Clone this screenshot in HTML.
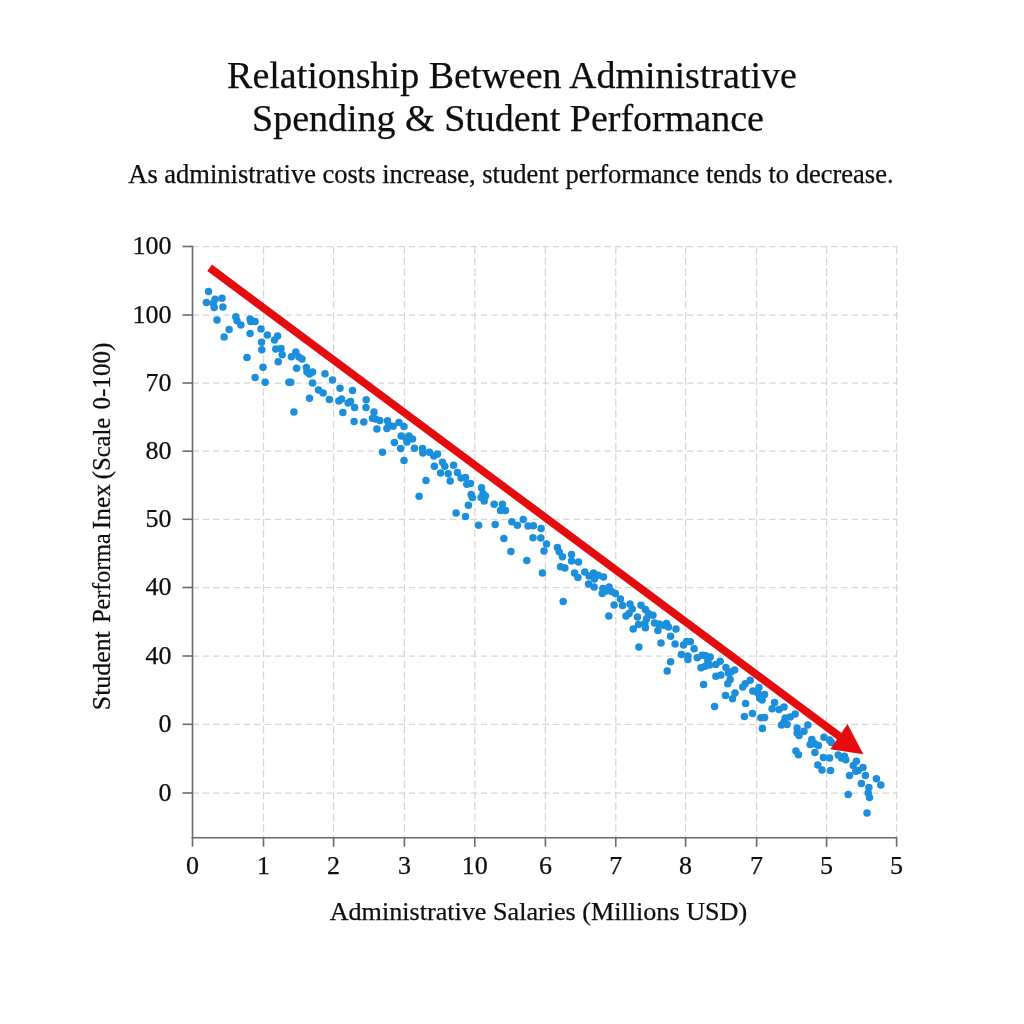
<!DOCTYPE html>
<html lang="en"><head><meta charset="utf-8">
<title>Relationship Between Administrative Spending &amp; Student Performance</title>
<style>
html,body{margin:0;padding:0;background:#fff;}
body{width:1024px;height:1024px;overflow:hidden;position:relative;}
svg{position:absolute;left:0;top:0;display:block;}
text{font-family:'Liberation Serif','DejaVu Serif',serif;fill:#0e0e0e;stroke:#0e0e0e;stroke-width:0.25;}
.g{stroke:#d6d6d6;stroke-width:1.25;fill:none;}
.ax{stroke:#6a6a6a;stroke-width:1.6;fill:none;}
.d{fill:#1b8fdb;}
</style></head><body>
<svg width="1024" height="1024" viewBox="0 0 1024 1024">
<rect width="1024" height="1024" fill="#fff"/>
<g class="g">
<line x1="192.5" y1="246.5" x2="897.5" y2="246.5" stroke-dasharray="6.3 4"/>
<line x1="192.5" y1="315" x2="897.5" y2="315" stroke-dasharray="6.3 4"/>
<line x1="192.5" y1="383" x2="897.5" y2="383" stroke-dasharray="6.3 4"/>
<line x1="192.5" y1="451.2" x2="897.5" y2="451.2" stroke-dasharray="6.3 4"/>
<line x1="192.5" y1="519.3" x2="897.5" y2="519.3" stroke-dasharray="6.3 4"/>
<line x1="192.5" y1="587.5" x2="897.5" y2="587.5" stroke-dasharray="6.3 4"/>
<line x1="192.5" y1="656" x2="897.5" y2="656" stroke-dasharray="6.3 4"/>
<line x1="192.5" y1="724.3" x2="897.5" y2="724.3" stroke-dasharray="6.3 4"/>
<line x1="192.5" y1="793" x2="897.5" y2="793" stroke-dasharray="6.3 4"/>
<line x1="263.5" y1="246.5" x2="263.5" y2="837.7" stroke-dasharray="7.6 3.3"/>
<line x1="333.6" y1="246.5" x2="333.6" y2="837.7" stroke-dasharray="7.6 3.3"/>
<line x1="404.4" y1="246.5" x2="404.4" y2="837.7" stroke-dasharray="7.6 3.3"/>
<line x1="474.8" y1="246.5" x2="474.8" y2="837.7" stroke-dasharray="7.6 3.3"/>
<line x1="545.4" y1="246.5" x2="545.4" y2="837.7" stroke-dasharray="7.6 3.3"/>
<line x1="615.8" y1="246.5" x2="615.8" y2="837.7" stroke-dasharray="7.6 3.3"/>
<line x1="685.6" y1="246.5" x2="685.6" y2="837.7" stroke-dasharray="7.6 3.3"/>
<line x1="756.6" y1="246.5" x2="756.6" y2="837.7" stroke-dasharray="7.6 3.3"/>
<line x1="826.6" y1="246.5" x2="826.6" y2="837.7" stroke-dasharray="7.6 3.3"/>
<line x1="896.6" y1="246.5" x2="896.6" y2="837.7" stroke-dasharray="7.6 3.3"/>
</g>
<g class="ax">
<line x1="192.5" y1="245.7" x2="192.5" y2="838.5"/>
<line x1="191.7" y1="837.7" x2="897.3" y2="837.7"/>
<line x1="182.5" y1="246.5" x2="192.5" y2="246.5"/>
<line x1="182.5" y1="315" x2="192.5" y2="315"/>
<line x1="182.5" y1="383" x2="192.5" y2="383"/>
<line x1="182.5" y1="451.2" x2="192.5" y2="451.2"/>
<line x1="182.5" y1="519.3" x2="192.5" y2="519.3"/>
<line x1="182.5" y1="587.5" x2="192.5" y2="587.5"/>
<line x1="182.5" y1="656" x2="192.5" y2="656"/>
<line x1="182.5" y1="724.3" x2="192.5" y2="724.3"/>
<line x1="182.5" y1="793" x2="192.5" y2="793"/>
<line x1="192.5" y1="837.7" x2="192.5" y2="846.7"/>
<line x1="263.5" y1="837.7" x2="263.5" y2="846.7"/>
<line x1="333.6" y1="837.7" x2="333.6" y2="846.7"/>
<line x1="404.4" y1="837.7" x2="404.4" y2="846.7"/>
<line x1="474.8" y1="837.7" x2="474.8" y2="846.7"/>
<line x1="545.4" y1="837.7" x2="545.4" y2="846.7"/>
<line x1="615.8" y1="837.7" x2="615.8" y2="846.7"/>
<line x1="685.6" y1="837.7" x2="685.6" y2="846.7"/>
<line x1="756.6" y1="837.7" x2="756.6" y2="846.7"/>
<line x1="826.6" y1="837.7" x2="826.6" y2="846.7"/>
<line x1="896.6" y1="837.7" x2="896.6" y2="846.7"/>
</g>
<g class="d">
<circle cx="208.5" cy="291.6" r="3.75"/>
<circle cx="206.4" cy="302.6" r="3.75"/>
<circle cx="215.1" cy="299.2" r="3.75"/>
<circle cx="213.2" cy="303.2" r="3.75"/>
<circle cx="214.2" cy="307.4" r="3.75"/>
<circle cx="222.0" cy="298.2" r="3.75"/>
<circle cx="222.9" cy="307.0" r="3.75"/>
<circle cx="217.0" cy="320.1" r="3.75"/>
<circle cx="235.8" cy="316.8" r="3.75"/>
<circle cx="237.0" cy="320.8" r="3.75"/>
<circle cx="240.8" cy="325.1" r="3.75"/>
<circle cx="229.1" cy="329.5" r="3.75"/>
<circle cx="224.1" cy="337.0" r="3.75"/>
<circle cx="250.1" cy="318.9" r="3.75"/>
<circle cx="250.8" cy="321.4" r="3.75"/>
<circle cx="255.1" cy="321.4" r="3.75"/>
<circle cx="261.0" cy="328.9" r="3.75"/>
<circle cx="250.1" cy="333.5" r="3.75"/>
<circle cx="267.4" cy="334.9" r="3.75"/>
<circle cx="277.6" cy="336.1" r="3.75"/>
<circle cx="274.5" cy="339.9" r="3.75"/>
<circle cx="261.5" cy="342.2" r="3.75"/>
<circle cx="261.8" cy="349.8" r="3.75"/>
<circle cx="275.8" cy="348.9" r="3.75"/>
<circle cx="281.1" cy="348.5" r="3.75"/>
<circle cx="282.2" cy="354.8" r="3.75"/>
<circle cx="247.0" cy="357.6" r="3.75"/>
<circle cx="278.2" cy="361.8" r="3.75"/>
<circle cx="263.0" cy="367.2" r="3.75"/>
<circle cx="295.8" cy="352.0" r="3.75"/>
<circle cx="291.4" cy="356.8" r="3.75"/>
<circle cx="298.9" cy="357.0" r="3.75"/>
<circle cx="302.0" cy="359.1" r="3.75"/>
<circle cx="296.6" cy="368.2" r="3.75"/>
<circle cx="306.4" cy="367.6" r="3.75"/>
<circle cx="307.0" cy="372.0" r="3.75"/>
<circle cx="312.6" cy="372.0" r="3.75"/>
<circle cx="309.5" cy="373.9" r="3.75"/>
<circle cx="255.1" cy="377.6" r="3.75"/>
<circle cx="265.1" cy="382.2" r="3.75"/>
<circle cx="288.9" cy="382.2" r="3.75"/>
<circle cx="290.8" cy="382.2" r="3.75"/>
<circle cx="312.6" cy="383.0" r="3.75"/>
<circle cx="318.5" cy="390.1" r="3.75"/>
<circle cx="309.5" cy="398.2" r="3.75"/>
<circle cx="293.9" cy="411.9" r="3.75"/>
<circle cx="325.0" cy="373.8" r="3.75"/>
<circle cx="332.5" cy="380.0" r="3.75"/>
<circle cx="323.1" cy="392.9" r="3.75"/>
<circle cx="340.0" cy="388.2" r="3.75"/>
<circle cx="352.5" cy="390.6" r="3.75"/>
<circle cx="329.4" cy="399.4" r="3.75"/>
<circle cx="338.8" cy="401.0" r="3.75"/>
<circle cx="341.5" cy="399.1" r="3.75"/>
<circle cx="348.1" cy="402.9" r="3.75"/>
<circle cx="350.6" cy="401.6" r="3.75"/>
<circle cx="354.6" cy="407.6" r="3.75"/>
<circle cx="342.9" cy="412.5" r="3.75"/>
<circle cx="366.2" cy="399.8" r="3.75"/>
<circle cx="366.0" cy="407.6" r="3.75"/>
<circle cx="374.0" cy="411.9" r="3.75"/>
<circle cx="354.1" cy="421.5" r="3.75"/>
<circle cx="363.8" cy="422.0" r="3.75"/>
<circle cx="372.5" cy="418.2" r="3.75"/>
<circle cx="375.6" cy="419.1" r="3.75"/>
<circle cx="379.8" cy="420.6" r="3.75"/>
<circle cx="387.5" cy="420.8" r="3.75"/>
<circle cx="376.9" cy="429.1" r="3.75"/>
<circle cx="386.9" cy="428.5" r="3.75"/>
<circle cx="388.8" cy="425.0" r="3.75"/>
<circle cx="393.1" cy="426.2" r="3.75"/>
<circle cx="399.0" cy="422.5" r="3.75"/>
<circle cx="404.0" cy="426.6" r="3.75"/>
<circle cx="401.2" cy="436.0" r="3.75"/>
<circle cx="406.2" cy="437.9" r="3.75"/>
<circle cx="409.0" cy="436.0" r="3.75"/>
<circle cx="412.5" cy="439.1" r="3.75"/>
<circle cx="406.9" cy="442.0" r="3.75"/>
<circle cx="394.4" cy="442.5" r="3.75"/>
<circle cx="400.6" cy="448.5" r="3.75"/>
<circle cx="414.4" cy="448.2" r="3.75"/>
<circle cx="382.5" cy="452.2" r="3.75"/>
<circle cx="422.5" cy="448.5" r="3.75"/>
<circle cx="422.8" cy="452.9" r="3.75"/>
<circle cx="429.4" cy="452.2" r="3.75"/>
<circle cx="433.8" cy="456.0" r="3.75"/>
<circle cx="437.5" cy="454.1" r="3.75"/>
<circle cx="404.0" cy="460.6" r="3.75"/>
<circle cx="442.5" cy="462.2" r="3.75"/>
<circle cx="434.4" cy="466.2" r="3.75"/>
<circle cx="419.1" cy="496.2" r="3.75"/>
<circle cx="426.0" cy="480.5" r="3.75"/>
<circle cx="440.6" cy="473.0" r="3.75"/>
<circle cx="448.2" cy="473.8" r="3.75"/>
<circle cx="450.2" cy="481.1" r="3.75"/>
<circle cx="453.6" cy="465.2" r="3.75"/>
<circle cx="457.4" cy="472.4" r="3.75"/>
<circle cx="461.1" cy="478.0" r="3.75"/>
<circle cx="465.5" cy="477.4" r="3.75"/>
<circle cx="466.8" cy="484.2" r="3.75"/>
<circle cx="470.5" cy="483.6" r="3.75"/>
<circle cx="481.5" cy="487.8" r="3.75"/>
<circle cx="471.1" cy="494.5" r="3.75"/>
<circle cx="472.4" cy="497.4" r="3.75"/>
<circle cx="483.0" cy="493.6" r="3.75"/>
<circle cx="485.5" cy="496.1" r="3.75"/>
<circle cx="481.1" cy="497.4" r="3.75"/>
<circle cx="484.2" cy="501.1" r="3.75"/>
<circle cx="468.4" cy="505.2" r="3.75"/>
<circle cx="494.2" cy="504.2" r="3.75"/>
<circle cx="502.4" cy="504.2" r="3.75"/>
<circle cx="500.5" cy="510.5" r="3.75"/>
<circle cx="505.5" cy="510.5" r="3.75"/>
<circle cx="456.1" cy="513.0" r="3.75"/>
<circle cx="465.5" cy="516.5" r="3.75"/>
<circle cx="478.6" cy="525.2" r="3.75"/>
<circle cx="495.2" cy="524.5" r="3.75"/>
<circle cx="511.8" cy="521.8" r="3.75"/>
<circle cx="517.4" cy="525.2" r="3.75"/>
<circle cx="523.2" cy="519.5" r="3.75"/>
<circle cx="528.0" cy="526.1" r="3.75"/>
<circle cx="533.4" cy="525.8" r="3.75"/>
<circle cx="541.1" cy="528.6" r="3.75"/>
<circle cx="503.9" cy="538.4" r="3.75"/>
<circle cx="533.0" cy="537.8" r="3.75"/>
<circle cx="540.8" cy="538.0" r="3.75"/>
<circle cx="546.5" cy="544.0" r="3.75"/>
<circle cx="544.0" cy="551.1" r="3.75"/>
<circle cx="510.9" cy="551.4" r="3.75"/>
<circle cx="526.8" cy="560.5" r="3.75"/>
<circle cx="557.4" cy="547.4" r="3.75"/>
<circle cx="559.2" cy="551.8" r="3.75"/>
<circle cx="562.4" cy="556.8" r="3.75"/>
<circle cx="571.5" cy="554.5" r="3.75"/>
<circle cx="571.6" cy="561.0" r="3.75"/>
<circle cx="560.5" cy="566.8" r="3.75"/>
<circle cx="564.9" cy="568.0" r="3.75"/>
<circle cx="542.4" cy="573.0" r="3.75"/>
<circle cx="574.5" cy="573.0" r="3.75"/>
<circle cx="563.2" cy="601.6" r="3.75"/>
<circle cx="578.5" cy="562.1" r="3.75"/>
<circle cx="577.9" cy="577.5" r="3.75"/>
<circle cx="584.8" cy="572.1" r="3.75"/>
<circle cx="589.1" cy="575.9" r="3.75"/>
<circle cx="593.5" cy="573.0" r="3.75"/>
<circle cx="594.4" cy="579.0" r="3.75"/>
<circle cx="598.2" cy="575.2" r="3.75"/>
<circle cx="603.5" cy="577.1" r="3.75"/>
<circle cx="588.5" cy="584.0" r="3.75"/>
<circle cx="594.1" cy="587.1" r="3.75"/>
<circle cx="602.9" cy="588.4" r="3.75"/>
<circle cx="606.0" cy="590.9" r="3.75"/>
<circle cx="602.2" cy="593.4" r="3.75"/>
<circle cx="609.1" cy="587.1" r="3.75"/>
<circle cx="611.6" cy="591.5" r="3.75"/>
<circle cx="615.4" cy="593.4" r="3.75"/>
<circle cx="620.4" cy="599.0" r="3.75"/>
<circle cx="614.1" cy="604.9" r="3.75"/>
<circle cx="622.5" cy="605.5" r="3.75"/>
<circle cx="630.0" cy="604.0" r="3.75"/>
<circle cx="632.2" cy="609.0" r="3.75"/>
<circle cx="641.0" cy="605.2" r="3.75"/>
<circle cx="645.4" cy="609.6" r="3.75"/>
<circle cx="629.1" cy="613.4" r="3.75"/>
<circle cx="626.0" cy="616.1" r="3.75"/>
<circle cx="608.8" cy="615.9" r="3.75"/>
<circle cx="637.5" cy="617.1" r="3.75"/>
<circle cx="648.5" cy="613.4" r="3.75"/>
<circle cx="652.9" cy="615.2" r="3.75"/>
<circle cx="646.6" cy="618.8" r="3.75"/>
<circle cx="654.5" cy="623.0" r="3.75"/>
<circle cx="638.5" cy="624.6" r="3.75"/>
<circle cx="644.8" cy="623.4" r="3.75"/>
<circle cx="645.4" cy="627.8" r="3.75"/>
<circle cx="633.2" cy="629.0" r="3.75"/>
<circle cx="659.1" cy="624.0" r="3.75"/>
<circle cx="663.5" cy="625.2" r="3.75"/>
<circle cx="666.6" cy="623.4" r="3.75"/>
<circle cx="668.5" cy="627.1" r="3.75"/>
<circle cx="657.9" cy="630.6" r="3.75"/>
<circle cx="676.0" cy="629.0" r="3.75"/>
<circle cx="670.6" cy="636.2" r="3.75"/>
<circle cx="661.0" cy="643.1" r="3.75"/>
<circle cx="675.1" cy="644.0" r="3.75"/>
<circle cx="638.9" cy="646.9" r="3.75"/>
<circle cx="683.5" cy="645.0" r="3.75"/>
<circle cx="686.6" cy="641.5" r="3.75"/>
<circle cx="690.4" cy="641.8" r="3.75"/>
<circle cx="694.1" cy="648.8" r="3.75"/>
<circle cx="681.4" cy="654.6" r="3.75"/>
<circle cx="687.9" cy="655.9" r="3.75"/>
<circle cx="687.9" cy="659.6" r="3.75"/>
<circle cx="697.2" cy="657.8" r="3.75"/>
<circle cx="702.2" cy="655.2" r="3.75"/>
<circle cx="670.6" cy="661.8" r="3.75"/>
<circle cx="667.2" cy="670.9" r="3.75"/>
<circle cx="701.0" cy="667.8" r="3.75"/>
<circle cx="705.2" cy="655.6" r="3.75"/>
<circle cx="710.2" cy="656.9" r="3.75"/>
<circle cx="707.8" cy="660.6" r="3.75"/>
<circle cx="705.2" cy="666.2" r="3.75"/>
<circle cx="709.6" cy="665.0" r="3.75"/>
<circle cx="715.9" cy="664.4" r="3.75"/>
<circle cx="720.2" cy="661.2" r="3.75"/>
<circle cx="725.9" cy="667.5" r="3.75"/>
<circle cx="734.6" cy="670.0" r="3.75"/>
<circle cx="730.9" cy="671.9" r="3.75"/>
<circle cx="728.4" cy="673.1" r="3.75"/>
<circle cx="715.9" cy="676.2" r="3.75"/>
<circle cx="720.9" cy="675.0" r="3.75"/>
<circle cx="730.2" cy="679.4" r="3.75"/>
<circle cx="727.8" cy="683.8" r="3.75"/>
<circle cx="703.6" cy="684.4" r="3.75"/>
<circle cx="750.2" cy="680.2" r="3.75"/>
<circle cx="745.2" cy="683.8" r="3.75"/>
<circle cx="742.8" cy="686.9" r="3.75"/>
<circle cx="759.0" cy="687.5" r="3.75"/>
<circle cx="752.8" cy="691.0" r="3.75"/>
<circle cx="757.8" cy="693.1" r="3.75"/>
<circle cx="764.6" cy="694.4" r="3.75"/>
<circle cx="759.6" cy="698.1" r="3.75"/>
<circle cx="762.1" cy="700.0" r="3.75"/>
<circle cx="735.0" cy="693.1" r="3.75"/>
<circle cx="732.5" cy="698.8" r="3.75"/>
<circle cx="725.5" cy="695.6" r="3.75"/>
<circle cx="745.6" cy="703.4" r="3.75"/>
<circle cx="714.6" cy="706.6" r="3.75"/>
<circle cx="774.6" cy="702.5" r="3.75"/>
<circle cx="772.1" cy="708.8" r="3.75"/>
<circle cx="779.0" cy="709.4" r="3.75"/>
<circle cx="784.0" cy="706.9" r="3.75"/>
<circle cx="752.5" cy="713.4" r="3.75"/>
<circle cx="744.4" cy="716.5" r="3.75"/>
<circle cx="760.9" cy="717.8" r="3.75"/>
<circle cx="764.6" cy="717.5" r="3.75"/>
<circle cx="795.2" cy="714.0" r="3.75"/>
<circle cx="790.2" cy="716.9" r="3.75"/>
<circle cx="785.2" cy="718.1" r="3.75"/>
<circle cx="784.0" cy="721.9" r="3.75"/>
<circle cx="781.5" cy="725.0" r="3.75"/>
<circle cx="787.1" cy="724.4" r="3.75"/>
<circle cx="762.4" cy="728.4" r="3.75"/>
<circle cx="807.8" cy="725.0" r="3.75"/>
<circle cx="797.1" cy="728.1" r="3.75"/>
<circle cx="804.0" cy="731.2" r="3.75"/>
<circle cx="797.1" cy="733.1" r="3.75"/>
<circle cx="799.0" cy="735.6" r="3.75"/>
<circle cx="824.0" cy="737.2" r="3.75"/>
<circle cx="829.6" cy="740.0" r="3.75"/>
<circle cx="811.8" cy="739.4" r="3.75"/>
<circle cx="810.2" cy="744.4" r="3.75"/>
<circle cx="814.6" cy="743.8" r="3.75"/>
<circle cx="818.4" cy="745.6" r="3.75"/>
<circle cx="795.9" cy="751.0" r="3.75"/>
<circle cx="798.4" cy="754.8" r="3.75"/>
<circle cx="814.9" cy="752.5" r="3.75"/>
<circle cx="823.4" cy="757.5" r="3.75"/>
<circle cx="829.6" cy="758.1" r="3.75"/>
<circle cx="817.8" cy="765.0" r="3.75"/>
<circle cx="831.4" cy="742.5" r="3.75"/>
<circle cx="822.0" cy="770.0" r="3.75"/>
<circle cx="830.5" cy="770.4" r="3.75"/>
<circle cx="838.2" cy="755.0" r="3.75"/>
<circle cx="841.4" cy="758.1" r="3.75"/>
<circle cx="845.8" cy="759.8" r="3.75"/>
<circle cx="844.5" cy="756.2" r="3.75"/>
<circle cx="856.4" cy="761.2" r="3.75"/>
<circle cx="853.2" cy="765.6" r="3.75"/>
<circle cx="855.8" cy="771.2" r="3.75"/>
<circle cx="858.2" cy="770.6" r="3.75"/>
<circle cx="863.0" cy="767.5" r="3.75"/>
<circle cx="849.5" cy="775.6" r="3.75"/>
<circle cx="865.4" cy="775.4" r="3.75"/>
<circle cx="861.4" cy="783.5" r="3.75"/>
<circle cx="868.9" cy="787.5" r="3.75"/>
<circle cx="868.2" cy="793.1" r="3.75"/>
<circle cx="869.5" cy="797.5" r="3.75"/>
<circle cx="848.2" cy="794.6" r="3.75"/>
<circle cx="867.0" cy="812.9" r="3.75"/>
<circle cx="876.4" cy="778.8" r="3.75"/>
<circle cx="880.8" cy="785.0" r="3.75"/>
<circle cx="444.8" cy="466.2" r="3.75"/>
</g>
<line x1="209.6" y1="267.75" x2="841.0" y2="737.5" stroke="#e50c0f" stroke-width="7.8"/>
<polygon points="847.5,724 830.3,749.3 863.4,754.3" fill="#e50c0f"/>
<text x="512" y="88.4" font-size="38" text-anchor="middle">Relationship Between Administrative</text>
<text x="508.0" y="130.6" font-size="38" text-anchor="middle">Spending &amp; Student Performance</text>
<text x="510.9" y="183.4" font-size="26.5" text-anchor="middle">As administrative costs increase, student performance tends to decrease.</text>
<text x="171.5" y="254.3" font-size="26" text-anchor="end">100</text>
<text x="171.5" y="322.8" font-size="26" text-anchor="end">100</text>
<text x="171.5" y="390.8" font-size="26" text-anchor="end">70</text>
<text x="171.5" y="459.0" font-size="26" text-anchor="end">80</text>
<text x="171.5" y="527.1" font-size="26" text-anchor="end">50</text>
<text x="171.5" y="595.3" font-size="26" text-anchor="end">40</text>
<text x="171.5" y="663.8" font-size="26" text-anchor="end">40</text>
<text x="171.5" y="732.1" font-size="26" text-anchor="end">0</text>
<text x="171.5" y="800.8" font-size="26" text-anchor="end">0</text>
<text x="192.5" y="874.2" font-size="26" text-anchor="middle">0</text>
<text x="263.5" y="874.2" font-size="26" text-anchor="middle">1</text>
<text x="333.6" y="874.2" font-size="26" text-anchor="middle">2</text>
<text x="404.4" y="874.2" font-size="26" text-anchor="middle">3</text>
<text x="474.8" y="874.2" font-size="26" text-anchor="middle">10</text>
<text x="545.4" y="874.2" font-size="26" text-anchor="middle">6</text>
<text x="615.8" y="874.2" font-size="26" text-anchor="middle">7</text>
<text x="685.6" y="874.2" font-size="26" text-anchor="middle">8</text>
<text x="756.6" y="874.2" font-size="26" text-anchor="middle">7</text>
<text x="826.6" y="874.2" font-size="26" text-anchor="middle">5</text>
<text x="896.6" y="874.2" font-size="26" text-anchor="middle">5</text>
<text x="538.4" y="920.2" font-size="26.15" text-anchor="middle">Administrative Salaries (Millions USD)</text>
<text transform="translate(110,710.2) rotate(-90)" font-size="26"><tspan x="0" textLength="79" lengthAdjust="spacingAndGlyphs">Student</tspan> <tspan x="87.4" textLength="89.4" lengthAdjust="spacingAndGlyphs">Performa</tspan> <tspan x="181" textLength="45" lengthAdjust="spacingAndGlyphs">Inex</tspan> <tspan x="231" textLength="61.5" lengthAdjust="spacingAndGlyphs">(Scale</tspan> <tspan x="300.6" textLength="67" lengthAdjust="spacingAndGlyphs">0-100)</tspan></text>
</svg></body></html>
